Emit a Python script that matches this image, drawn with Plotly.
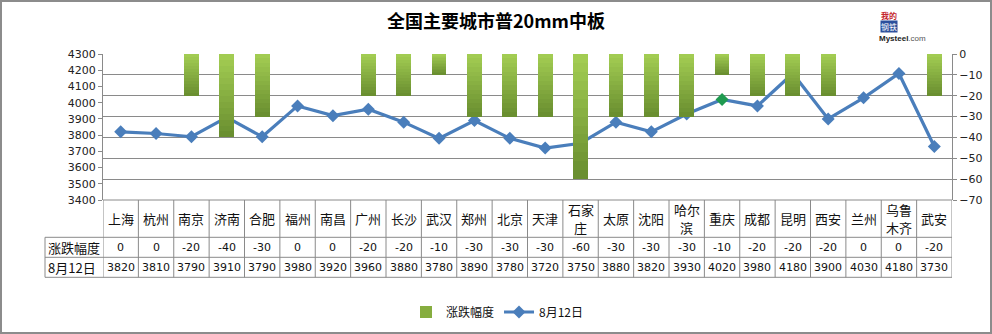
import plotly.graph_objects as go

# ---- data -------------------------------------------------------------
cities = ["上海", "杭州", "南京", "济南", "合肥", "福州", "南昌", "广州", "长沙", "武汉",
          "郑州", "北京", "天津", "石家庄", "太原", "沈阳", "哈尔滨", "重庆", "成都", "昆明",
          "西安", "兰州", "乌鲁木齐", "武安"]
# table header text; long names wrap onto two lines
city_labels = [["上海"], ["杭州"], ["南京"], ["济南"], ["合肥"], ["福州"], ["南昌"], ["广州"],
               ["长沙"], ["武汉"], ["郑州"], ["北京"], ["天津"], ["石家", "庄"], ["太原"],
               ["沈阳"], ["哈尔", "滨"], ["重庆"], ["成都"], ["昆明"], ["西安"], ["兰州"],
               ["乌鲁", "木齐"], ["武安"]]
change = [0, 0, -20, -40, -30, 0, 0, -20, -20, -10, -30, -30, -30, -60, -30, -30, -30,
          -10, -20, -20, -20, 0, 0, -20]
price = [3820, 3810, 3790, 3910, 3790, 3980, 3920, 3960, 3880, 3780, 3890, 3780, 3720,
         3750, 3880, 3820, 3930, 4020, 3980, 4180, 3900, 4030, 4180, 3730]
change_name = "涨跌幅度"
price_name = "8月12日"
title_text = "全国主要城市普20mm中板"

# ---- geometry (pixels of the 992x334 canvas) ---------------------------
W, H = 992, 334
L, R, T, B = 103, 952, 54, 200


def px(x):
    return (x - L) / (R - L)


def py(y):
    return (B - y) / (B - T)


CJK = "Noto Sans CJK SC"
NUM = "DejaVu Sans"
GRID = "#8a8a8a"

fig = go.Figure()

# bars hanging from zero, shaded dark (bottom) to light (top)
dark = (0x6a, 0x8f, 0x30)
light = (0xa2, 0xcc, 0x52)
steps = 14
for k in range(steps):
    f = 1 - k / steps
    t = k / (steps - 1)
    col = "rgb(%d,%d,%d)" % tuple(round(d + (l - d) * t) for d, l in zip(dark, light))
    fig.add_trace(go.Bar(
        x=cities, y=[v * f for v in change], yaxis="y2", width=0.42,
        marker=dict(color=col, line=dict(width=0)),
        showlegend=False, hoverinfo="skip",
    ))
# legend entry for the bars
fig.add_trace(go.Bar(x=[cities[0]], y=[None], yaxis="y2", name=change_name,
                     marker=dict(color="#86ad3f", line=dict(width=0))))

marker_colors = ["#1f9a50" if c == "重庆" else "#4a7ebb" for c in cities]
fig.add_trace(go.Scatter(
    x=cities, y=price, name=price_name, mode="lines+markers",
    line=dict(color="#4a7ebb", width=3.2),
    marker=dict(symbol="diamond", size=10, color=marker_colors),
))

# ---- table under the plot ---------------------------------------------
shapes = []
line_style = dict(color=GRID, width=1)
row_y = [B, 237.3, 257.3, 277.3]
for i, y in enumerate(row_y):
    x0 = L if i == 0 else 45
    shapes.append(dict(type="line", xref="paper", yref="paper",
                       x0=px(x0), x1=px(R), y0=py(y), y1=py(y), line=line_style))
for i in range(len(cities) + 1):
    shapes.append(dict(type="line", xref="x", yref="paper",
                       x0=i - 0.5, x1=i - 0.5, y0=py(B), y1=py(277.3), line=line_style))
shapes.append(dict(type="line", xref="paper", yref="paper",
                   x0=px(45), x1=px(45), y0=py(237.3), y1=py(277.3), line=line_style))
# outer frame
shapes.append(dict(type="rect", xref="paper", yref="paper",
                   x0=px(1), x1=px(991), y0=py(1), y1=py(333),
                   line=dict(color="#8c8c8c", width=2)))

ann = []
for c, lines, ch, p in zip(cities, city_labels, change, price):
    ys = [218.5] if len(lines) == 1 else [209.5, 228]
    for txt, yy in zip(lines, ys):
        ann.append(dict(x=c, xref="x", y=py(yy), yref="paper", text=txt, showarrow=False,
                        font=dict(family=CJK, size=13, color="#111"), yanchor="middle"))
    ann.append(dict(x=c, xref="x", y=py(247.5), yref="paper", text=str(ch), showarrow=False,
                    font=dict(family=NUM, size=11, color="#111"), yanchor="middle"))
    ann.append(dict(x=c, xref="x", y=py(267.5), yref="paper", text=str(p), showarrow=False,
                    font=dict(family=NUM, size=11, color="#111"), yanchor="middle"))
ann.append(dict(x=px(46), xref="paper", y=py(247.5), yref="paper", text=change_name,
                showarrow=False, xanchor="left", yanchor="middle",
                font=dict(family=CJK, size=13, color="#111")))
ann.append(dict(x=px(46), xref="paper", y=py(267.5), yref="paper", text=price_name,
                showarrow=False, xanchor="left", yanchor="middle",
                font=dict(family=CJK, size=13, color="#111")))

# title
ann.append(dict(x=px(496), xref="paper", y=py(20), yref="paper", text="<b>%s</b>" % title_text,
                showarrow=False, xanchor="center", yanchor="middle",
                font=dict(family=CJK, size=18, color="#000")))
# logo
ann.append(dict(x=px(889), xref="paper", y=py(15), yref="paper", text="<b>我的</b>",
                showarrow=False, xanchor="center", yanchor="middle",
                font=dict(family=CJK, size=8, color="#c4262e")))
ann.append(dict(x=px(889), xref="paper", y=py(27), yref="paper", text="钢铁",
                showarrow=False, xanchor="center", yanchor="middle", bgcolor="#2c4f9c",
                borderpad=0, font=dict(family=CJK, size=8, color="#ffffff")))
ann.append(dict(x=px(902), xref="paper", y=py(38), yref="paper",
                text="<b>Mysteel</b><span style='color:#555'>.com</span>",
                showarrow=False, xanchor="center", yanchor="middle",
                font=dict(family="Liberation Sans", size=8, color="#222")))

fig.update_layout(
    width=W, height=H,
    margin=dict(l=L, r=W - R, t=T, b=H - B, autoexpand=False),
    paper_bgcolor="white", plot_bgcolor="white",
    barmode="overlay", bargap=0,
    xaxis=dict(type="category", range=[-0.5, len(cities) - 0.5], showticklabels=False,
               showgrid=False, showline=False, zeroline=False, fixedrange=True),
    yaxis=dict(range=[3400, 4300], dtick=100, showgrid=False, zeroline=False,
               showline=True, linecolor=GRID, linewidth=1,
               ticks="outside", ticklen=4, tickcolor=GRID,
               tickfont=dict(family=NUM, size=11, color="#222")),
    yaxis2=dict(range=[-70, 0], dtick=10, overlaying="y", side="right",
                showgrid=True, gridcolor=GRID, gridwidth=1, zeroline=False,
                showline=True, linecolor=GRID, linewidth=1,
                ticks="outside", ticklen=4, tickcolor=GRID,
                tickfont=dict(family=NUM, size=11, color="#222")),
    legend=dict(orientation="h", x=px(497), xanchor="center", y=py(312), yanchor="middle",
                font=dict(family=CJK, size=12, color="#111"), itemwidth=30,
                bgcolor="rgba(0,0,0,0)", traceorder="normal"),
    shapes=shapes, annotations=ann,
    showlegend=True,
)

fig.write_html("out.html")
